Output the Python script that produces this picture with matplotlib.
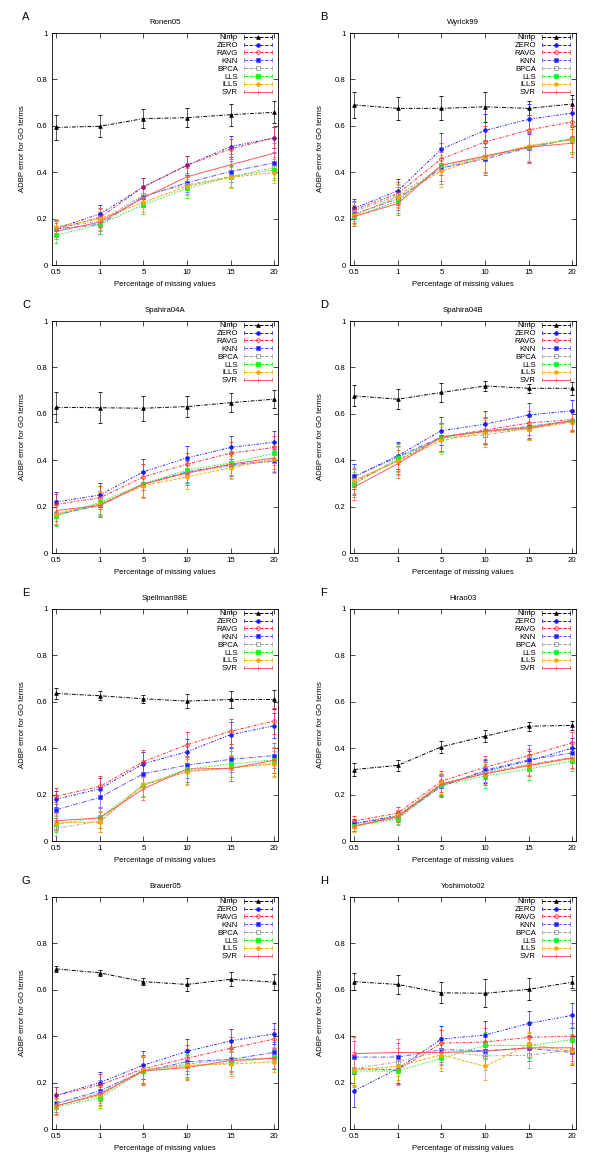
import numpy as np
import matplotlib
matplotlib.use("Agg")
import matplotlib.pyplot as plt
from matplotlib.lines import Line2D
from matplotlib.legend_handler import HandlerBase
from matplotlib.container import ErrorbarContainer

plt.rcParams["font.family"] = ["Liberation Sans", "DejaVu Sans"]

# ---- data ----
X_LABELS = ["0.5", "1", "5", "10", "15", "20"]
METHODS = ["Nimp", "ZERO", "RAVG", "KNN", "BPCA", "LLS", "iLLS", "SVR"]
LETTERS = ["A", "B", "C", "D", "E", "F", "G", "H"]
DATASETS = ["Ronen05", "Wyrick99", "Spahira04A", "Spahira04B",
            "Spellman98E", "Hirao03", "Brauer05", "Yoshimoto02"]

ronen05 = {
    "Nimp": [0.593, 0.598, 0.631, 0.635, 0.648, 0.658],
    "ZERO": [0.158, 0.220, 0.337, 0.430, 0.510, 0.548],
    "RAVG": [0.155, 0.205, 0.337, 0.430, 0.500, 0.548],
    "KNN":  [0.155, 0.175, 0.295, 0.355, 0.403, 0.440],
    "BPCA": [0.160, 0.190, 0.300, 0.345, 0.380, 0.420],
    "LLS":  [0.128, 0.175, 0.260, 0.330, 0.380, 0.410],
    "iLLS": [0.165, 0.200, 0.270, 0.340, 0.378, 0.398],
    "SVR":  [0.145, 0.185, 0.290, 0.380, 0.432, 0.482],
}
ronen05_nimp_err = [0.053, 0.048, 0.040, 0.042, 0.048, 0.048]
ronen05_err = [0.035, 0.040, 0.040, 0.040, 0.045, 0.045]

wyrick99 = {
    "Nimp": [0.690, 0.675, 0.675, 0.682, 0.675, 0.694],
    "ZERO": [0.245, 0.320, 0.500, 0.580, 0.628, 0.655],
    "RAVG": [0.238, 0.308, 0.458, 0.530, 0.582, 0.617],
    "KNN":  [0.220, 0.285, 0.418, 0.457, 0.505, 0.545],
    "BPCA": [0.230, 0.300, 0.420, 0.465, 0.510, 0.540],
    "LLS":  [0.210, 0.275, 0.430, 0.465, 0.510, 0.545],
    "iLLS": [0.215, 0.295, 0.405, 0.465, 0.515, 0.540],
    "SVR":  [0.210, 0.265, 0.430, 0.470, 0.508, 0.525],
}
wyrick99_nimp_err = [0.055, 0.050, 0.052, 0.065, 0.030, 0.040]
wyrick99_err = [0.040, 0.050, 0.070, 0.070, 0.065, 0.060]

spahira04a = {
    "Nimp": [0.628, 0.626, 0.624, 0.631, 0.648, 0.663],
    "ZERO": [0.220, 0.250, 0.350, 0.410, 0.455, 0.478],
    "RAVG": [0.210, 0.238, 0.328, 0.383, 0.430, 0.455],
    "KNN":  [0.165, 0.205, 0.297, 0.350, 0.380, 0.398],
    "BPCA": [0.165, 0.210, 0.295, 0.345, 0.375, 0.395],
    "LLS":  [0.160, 0.218, 0.298, 0.358, 0.388, 0.430],
    "iLLS": [0.170, 0.212, 0.290, 0.328, 0.368, 0.405],
    "SVR":  [0.183, 0.205, 0.298, 0.345, 0.383, 0.410],
}
spahira04a_nimp_err = [0.065, 0.066, 0.053, 0.045, 0.040, 0.040]
spahira04a_err = [0.045, 0.050, 0.055, 0.050, 0.050, 0.050]

spahira04b = {
    "Nimp": [0.677, 0.663, 0.692, 0.720, 0.710, 0.710],
    "ZERO": [0.330, 0.420, 0.527, 0.555, 0.595, 0.613],
    "RAVG": [0.305, 0.400, 0.500, 0.530, 0.560, 0.575],
    "KNN":  [0.330, 0.415, 0.500, 0.525, 0.545, 0.570],
    "BPCA": [0.310, 0.400, 0.495, 0.510, 0.535, 0.565],
    "LLS":  [0.295, 0.410, 0.495, 0.525, 0.540, 0.570],
    "iLLS": [0.315, 0.395, 0.485, 0.520, 0.535, 0.565],
    "SVR":  [0.285, 0.385, 0.500, 0.525, 0.540, 0.570],
}
spahira04b_nimp_err = [0.045, 0.042, 0.040, 0.022, 0.020, 0.028]
spahira04b_err = [0.055, 0.060, 0.060, 0.055, 0.050, 0.045]

spellman98e = {
    "Nimp": [0.636, 0.626, 0.613, 0.603, 0.610, 0.610],
    "ZERO": [0.180, 0.225, 0.333, 0.385, 0.458, 0.497],
    "RAVG": [0.193, 0.235, 0.342, 0.415, 0.473, 0.517],
    "KNN":  [0.135, 0.188, 0.290, 0.327, 0.352, 0.368],
    "BPCA": [0.055, 0.085, 0.240, 0.300, 0.315, 0.335],
    "LLS":  [0.072, 0.102, 0.240, 0.310, 0.332, 0.350],
    "iLLS": [0.078, 0.082, 0.245, 0.298, 0.315, 0.332],
    "SVR":  [0.087, 0.100, 0.225, 0.310, 0.313, 0.348],
}
spellman98e_nimp_err = [0.025, 0.020, 0.018, 0.030, 0.035, 0.040]
spellman98e_err = [0.035, 0.045, 0.050, 0.055, 0.055, 0.055]

hirao03 = {
    "Nimp": [0.308, 0.326, 0.406, 0.452, 0.495, 0.498],
    "ZERO": [0.075, 0.110, 0.240, 0.300, 0.345, 0.400],
    "RAVG": [0.087, 0.120, 0.258, 0.318, 0.368, 0.423],
    "KNN":  [0.075, 0.105, 0.235, 0.305, 0.350, 0.380],
    "BPCA": [0.065, 0.100, 0.245, 0.295, 0.330, 0.360],
    "LLS":  [0.065, 0.095, 0.240, 0.280, 0.310, 0.345],
    "iLLS": [0.060, 0.110, 0.248, 0.290, 0.325, 0.355],
    "SVR":  [0.065, 0.105, 0.245, 0.290, 0.325, 0.358],
}
hirao03_nimp_err = [0.028, 0.025, 0.025, 0.027, 0.020, 0.020]
hirao03_err = [0.020, 0.025, 0.045, 0.050, 0.045, 0.045]

brauer05 = {
    "Nimp": [0.690, 0.673, 0.635, 0.623, 0.645, 0.633],
    "ZERO": [0.145, 0.200, 0.275, 0.335, 0.380, 0.410],
    "RAVG": [0.145, 0.190, 0.260, 0.305, 0.348, 0.388],
    "KNN":  [0.110, 0.165, 0.250, 0.290, 0.300, 0.330],
    "BPCA": [0.110, 0.155, 0.255, 0.280, 0.300, 0.305],
    "LLS":  [0.095, 0.135, 0.250, 0.270, 0.285, 0.310],
    "iLLS": [0.100, 0.145, 0.255, 0.275, 0.280, 0.290],
    "SVR":  [0.100, 0.150, 0.250, 0.265, 0.295, 0.305],
}
brauer05_nimp_err = [0.012, 0.012, 0.015, 0.030, 0.030, 0.035]
brauer05_err = [0.035, 0.045, 0.060, 0.055, 0.050, 0.045]

yoshimoto02 = {
    "Nimp": [0.635, 0.623, 0.587, 0.585, 0.602, 0.633],
    "ZERO": [0.165, 0.260, 0.388, 0.405, 0.455, 0.490],
    "RAVG": [0.260, 0.255, 0.370, 0.375, 0.395, 0.400],
    "KNN":  [0.310, 0.310, 0.342, 0.338, 0.348, 0.330],
    "BPCA": [0.260, 0.290, 0.335, 0.315, 0.318, 0.340],
    "LLS":  [0.250, 0.250, 0.305, 0.360, 0.360, 0.385],
    "iLLS": [0.255, 0.270, 0.320, 0.270, 0.365, 0.335],
    "SVR":  [0.325, 0.330, 0.330, 0.335, 0.350, 0.350],
}
yoshimoto02_nimp_err = [0.038, 0.040, 0.045, 0.060, 0.048, 0.025]
yoshimoto02_err = [0.070, 0.060, 0.055, 0.060, 0.055, 0.055]

PANELS = [
    (ronen05, ronen05_nimp_err, ronen05_err),
    (wyrick99, wyrick99_nimp_err, wyrick99_err),
    (spahira04a, spahira04a_nimp_err, spahira04a_err),
    (spahira04b, spahira04b_nimp_err, spahira04b_err),
    (spellman98e, spellman98e_nimp_err, spellman98e_err),
    (hirao03, hirao03_nimp_err, hirao03_err),
    (brauer05, brauer05_nimp_err, brauer05_err),
    (yoshimoto02, yoshimoto02_nimp_err, yoshimoto02_err),
]

# ---- styles (gnuplot look) ----
STYLE = {
    "Nimp": dict(color="#000000", ls=(0, (4, 1.5, 1, 1.5)), marker="^", mfc="#000000"),
    "ZERO": dict(color="#1a1aff", ls=(0, (2.5, 1.5, 1, 1.5, 1, 1.5)), marker="o", mfc="#1a1aff"),
    "RAVG": dict(color="#ff2a2a", ls=(0, (3, 1.5, 1, 1.5)), marker="o", mfc="none"),
    "KNN":  dict(color="#5a5aff", ls=(0, (5, 1.5, 1, 1.5)), marker="s", mfc="#2020ff"),
    "BPCA": dict(color="#a0a0a0", ls=(0, (3, 1.5, 1, 1.5)), marker="s", mfc="none"),
    "LLS":  dict(color="#22ee22", ls=(0, (1.5, 1.5)), marker="s", mfc="#22ee22"),
    "iLLS": dict(color="#ffa500", ls=(0, (3, 1.5)), marker="o", mfc="#ffa500"),
    "SVR":  dict(color="#ff5a5a", ls="-", marker="+", mfc="#ff5a5a"),
}


class GnuKeyHandler(HandlerBase):
    # gnuplot style key sample: |----o----|
    def create_artists(self, legend, orig_handle, xdescent, ydescent,
                       width, height, fontsize, trans):
        src = orig_handle.lines[0]
        y = height / 2 - ydescent
        x0, x1 = -xdescent, width - xdescent
        c = src.get_color()
        h = height * 0.35
        arts = [
            Line2D([x0, x1], [y, y], color=c, ls=src.get_linestyle(), lw=0.7),
            Line2D([x0, x0], [y - h, y + h], color=c, lw=0.5),
            Line2D([x1, x1], [y - h, y + h], color=c, lw=0.5),
            Line2D([(x0 + x1) / 2], [y], marker=src.get_marker(), ms=2.6,
                   mfc=src.get_markerfacecolor(), mec=c, mew=0.6, ls="none"),
        ]
        for a in arts:
            a.set_transform(trans)
        return arts


FS = 5.6
W, H = 600, 1166
LEFTS = [52, 350]
TOPS = [33, 321, 609, 897]
AX_W, AX_H = 226, 232

fig = plt.figure(figsize=(W / 100, H / 100), dpi=100)
x = np.arange(len(X_LABELS))

for i, (data, nimp_err, err) in enumerate(PANELS):
    row, col = divmod(i, 2)
    left, top = LEFTS[col], TOPS[row]
    ax = fig.add_axes([left / W, 1 - (top + AX_H) / H, AX_W / W, AX_H / H])

    for m in METHODS:
        st = STYLE[m]
        e = nimp_err if m == "Nimp" else err
        ax.errorbar(x, data[m], yerr=e, color=st["color"], ls=st["ls"], lw=0.7,
                    marker=st["marker"], ms=2.6, mfc=st["mfc"], mec=st["color"],
                    mew=0.6, elinewidth=0.45, capsize=1.6, capthick=0.45,
                    ecolor=st["color"], label=m)

    ax.set_xlim(-0.1, 5.09)
    ax.set_ylim(0, 1)
    ax.set_xticks(x)
    ax.set_xticklabels(X_LABELS)
    ax.set_yticks([0, 0.2, 0.4, 0.6, 0.8, 1])
    ax.set_yticklabels(["0", "0.2", "0.4", "0.6", "0.8", "1"])
    ax.tick_params(direction="in", length=3.5, width=0.5, labelsize=FS,
                   top=True, right=True, pad=3)
    for sp in ax.spines.values():
        sp.set_linewidth(0.6)

    ax.set_xlabel("Percentage of missing values", fontsize=FS, labelpad=3.5)
    ax.set_ylabel("ADBP error for GO terms", fontsize=FS, labelpad=8)
    ax.set_title(DATASETS[i], fontsize=FS, pad=6.5)

    fig.text((left - 30) / W, 1 - (top - 16) / H, LETTERS[i], fontsize=8,
             ha="left", va="center")

    ax.legend(loc="upper right", bbox_to_anchor=(1 - 6 / AX_W, 1 - 1 / AX_H),
              frameon=False, markerfirst=False, fontsize=FS, handlelength=3.6,
              labelspacing=0.05, borderaxespad=0, handletextpad=0.8,
              borderpad=0, handler_map={ErrorbarContainer: GnuKeyHandler()})

fig.savefig("out.png", dpi=100)
